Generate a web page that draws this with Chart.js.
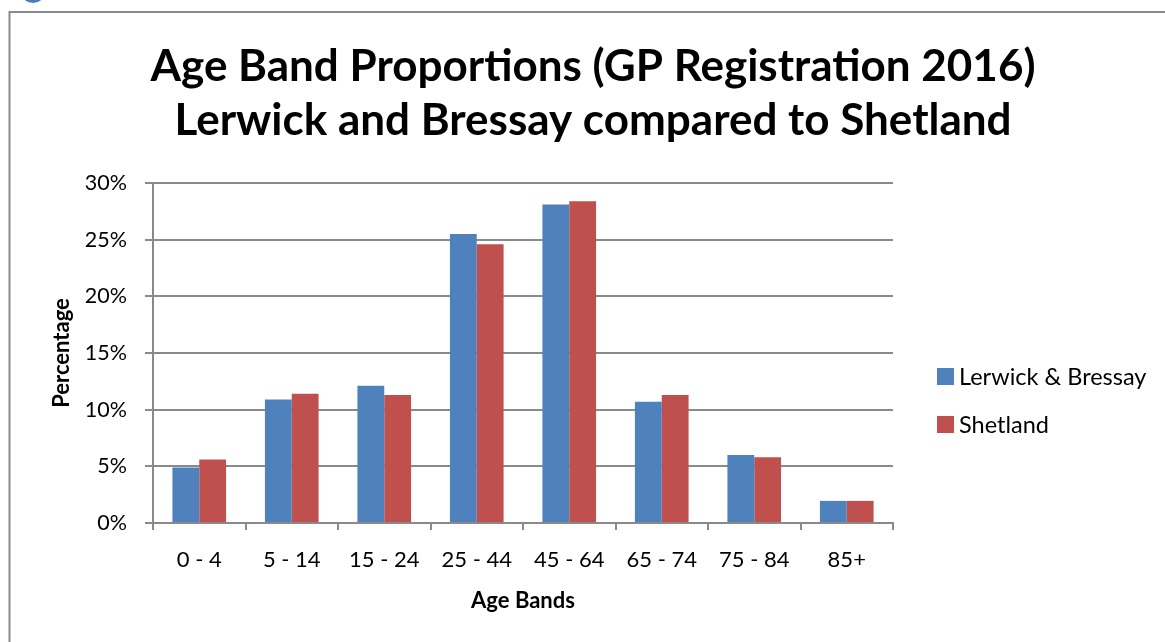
<!DOCTYPE html>
<html>
<head>
<meta charset="utf-8">
<script src="https://cdn.jsdelivr.net/npm/chart.js@4.4.0/dist/chart.umd.min.js"></script>
<style>
  html, body { margin: 0; padding: 0; background: #fff; }
  #wrap { width: 1165px; height: 642px; position: relative; }
</style>
</head>
<body>
<div id="wrap"><canvas id="ageChart" width="1165" height="642"></canvas></div>
<script>
// values (percent of GP registrations)
const ageBands = ['0 - 4', '5 - 14', '15 - 24', '25 - 44', '45 - 64', '65 - 74', '75 - 84', '85+'];
const lerwickBressay = [4.9, 10.9, 12.1, 25.5, 28.1, 10.7, 6.0, 1.95];
const shetland = [5.6, 11.4, 11.3, 24.6, 28.4, 11.3, 5.8, 1.95];
const titleLines = ['Age Band Proportions (GP Registration 2016)', 'Lerwick and Bressay compared to Shetland'];

const FONT = 'Lato, "Open Sans", sans-serif';
const GRID = '#8a8a8a';

// frame, title and legend drawn around the plot
const decor = {
  id: 'decor',
  beforeDraw(chart) {
    const c = chart.ctx;
    c.save();
    c.fillStyle = '#fff';
    c.fillRect(0, 0, chart.width, chart.height);
    // bit of a blue shape peeking in at the top-left
    c.fillStyle = '#4a7ebb';
    c.beginPath();
    c.arc(33, -10, 13, 0, Math.PI * 2);
    c.fill();
    c.strokeStyle = '#8a8a8a';
    c.lineWidth = 2;
    c.beginPath();
    c.moveTo(9.5, chart.height + 2);
    c.lineTo(9.5, 12);
    c.lineTo(chart.width + 2, 12);
    c.stroke();
    c.restore();
  },
  afterDraw(chart) {
    const c = chart.ctx;
    c.save();
    c.fillStyle = '#000';
    c.textAlign = 'center';
    c.textBaseline = 'middle';
    c.font = 'bold 44px ' + FONT;
    c.fillText(titleLines[0], 593, 67);
    c.fillText(titleLines[1], 593, 121);
    // legend
    c.textAlign = 'left';
    c.font = '23.5px ' + FONT;
    const rows = [376, 424];
    chart.data.datasets.forEach((ds, i) => {
      c.fillStyle = ds.backgroundColor;
      c.fillRect(937, rows[i] - 8, 17, 17);
      c.fillStyle = '#000';
      c.fillText(ds.label, 959, rows[i] + 1);
    });
    c.restore();
  }
};

new Chart(document.getElementById('ageChart'), {
  type: 'bar',
  data: {
    labels: ageBands,
    datasets: [
      { label: 'Lerwick & Bressay', data: lerwickBressay, backgroundColor: '#4f81bd' },
      { label: 'Shetland', data: shetland, backgroundColor: '#c0504d' }
    ]
  },
  options: {
    responsive: false,
    animation: false,
    events: [],
    layout: { padding: { left: 45, top: 183, right: 272, bottom: 0 } },
    datasets: { bar: { categoryPercentage: 0.58, barPercentage: 1 } },
    plugins: {
      legend: { display: false },
      title: { display: false },
      tooltip: { enabled: false }
    },
    scales: {
      x: {
        afterFit: s => { s.height = 119; },
        grid: { offset: true, drawOnChartArea: false, drawTicks: true, tickLength: 7, color: GRID, lineWidth: 2 },
        border: { color: GRID, width: 2 },
        ticks: { color: '#000', padding: 17, font: { family: FONT, size: 22 } },
        title: { display: true, text: 'Age Bands', color: '#000', padding: { top: 0, bottom: 28 }, font: { family: FONT, size: 22, weight: 'bold' } }
      },
      y: {
        min: 0, max: 30,
        afterFit: s => { s.width = 108; },
        grid: { color: GRID, lineWidth: 2, tickLength: 8 },
        border: { color: GRID, width: 2 },
        ticks: { stepSize: 5, color: '#000', padding: 18, font: { family: FONT, size: 21.5 }, callback: v => v + '%' },
        title: { display: true, text: 'Percentage', color: '#000', padding: { top: 4, bottom: 0 }, font: { family: FONT, size: 22, weight: 'bold' } }
      }
    }
  },
  plugins: [decor]
});
</script>
</body>
</html>
